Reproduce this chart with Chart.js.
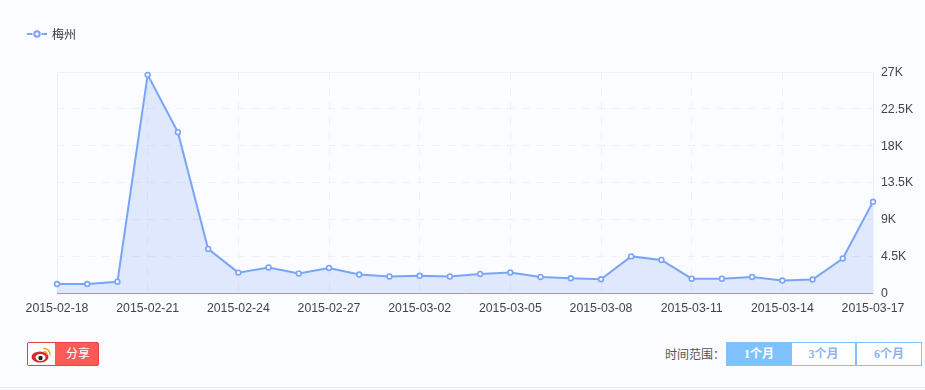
<!DOCTYPE html>
<html>
<head>
<meta charset="utf-8">
<script src="https://cdn.jsdelivr.net/npm/chart.js@4"></script>
<style>
html, body { margin: 0; padding: 0; background: #fbfcff; }
body { width: 925px; height: 390px; position: relative; overflow: hidden; font-family: "Liberation Sans", "Noto Sans CJK SC", sans-serif; }
#wrap { position: absolute; left: 0; top: 0; width: 925px; height: 330px; }
#legend { position: absolute; left: 27px; top: 26px; height: 16px; line-height: 16px; font-size: 12px; color: #333; }
#legend svg { position: absolute; left: 0; top: 0; }
#legend span { position: absolute; left: 25px; top: 1px; white-space: nowrap; }
#share { position: absolute; left: 27px; top: 342px; width: 70px; height: 22px; border: 1px solid #e8403f; border-radius: 2px; background: #fc5a56; color: #fff; font-size: 12px; }
#share .ico { position: absolute; left: 0; top: 0; width: 27px; height: 22px; background: #fff; }
#share span { position: absolute; left: 38px; top: 3px; line-height: 16px; white-space: nowrap; }
#range-label { position: absolute; left: 665px; top: 347px; font-size: 12px; line-height: 16px; color: #555; white-space: nowrap; }
.btn { position: absolute; top: 342px; height: 22px; line-height: 22px; border: 1px solid #83c1fb; text-align: center; font-size: 12px; font-weight: bold; color: #8ab4f4; background: #fff; font-family: "Liberation Serif", "Noto Sans CJK SC", serif; }
.btn.on { background: #7fc1fd; color: #fff; }
#foot { position: absolute; left: 0; right: 0; top: 387px; height: 1px; background: #e9edf2; }
</style>
</head>
<body>
<div id="wrap"><canvas id="trend-chart"></canvas></div>
<div id="legend">
  <svg width="22" height="16"><path d="M0 8H5.5M14.5 8H20" stroke="#7aa5f7" stroke-width="2"/><circle cx="10" cy="8" r="2.7" fill="#fbfcff" stroke="#7aa5f7" stroke-width="2"/></svg>
  <span>梅州</span>
</div>
<div id="share">
  <div class="ico"><svg width="27" height="22">
    <ellipse cx="12" cy="14" rx="8.5" ry="5.5" fill="#d8282f"/>
    <ellipse cx="12.5" cy="14.5" rx="5" ry="3.4" fill="#fff"/>
    <circle cx="12.5" cy="15" r="2.2" fill="#222"/>
    <path d="M15 5.5a6 6 0 0 1 7 7" fill="none" stroke="#f5a623" stroke-width="1.5"/>
    <path d="M15.5 8.5a3 3 0 0 1 3.5 3.5" fill="none" stroke="#f5a623" stroke-width="1.5"/>
  </svg></div>
  <span>分享</span>
</div>
<div id="range-label">时间范围：</div>
<div class="btn on" style="left:726px;width:64px">1个月</div>
<div class="btn" style="left:791px;width:63px">3个月</div>
<div class="btn" style="left:856px;width:64px">6个月</div>
<div id="foot"></div>
<script>
const dates = ['2015-02-18','2015-02-19','2015-02-20','2015-02-21','2015-02-22','2015-02-23','2015-02-24',
    '2015-02-25','2015-02-26','2015-02-27','2015-02-28','2015-03-01','2015-03-02','2015-03-03','2015-03-04',
    '2015-03-05','2015-03-06','2015-03-07','2015-03-08','2015-03-09','2015-03-10','2015-03-11','2015-03-12',
    '2015-03-13','2015-03-14','2015-03-15','2015-03-16','2015-03-17']
const meizhou = [1100,1100,1380,26650,19650,5390,2490,3120,2390,3060,2260,2020,2100,2020,2330,2510,1960,1800,
    1680,4470,4040,1750,1750,1960,1530,1650,4220,11140]
const yLabels = {0:'0',4500:'4.5K',9000:'9K',13500:'13.5K',18000:'18K',22500:'22.5K',27000:'27K'}

const gridColor = '#eef1fa'
const lineColor = '#7aa5f7'

Chart.defaults.font.family = '"Liberation Sans", "Noto Sans CJK SC", sans-serif'
Chart.defaults.font.size = 12.3
Chart.defaults.color = '#444'

new Chart(document.getElementById('trend-chart'), {
    type: 'line',
    data: {
        labels: dates,
        datasets: [{
            label: '梅州',
            data: meizhou,
            borderColor: lineColor,
            borderWidth: 2,
            backgroundColor: 'rgba(122,165,247,0.22)',
            fill: 'origin',
            tension: 0,
            clip: false,
            pointRadius: 2.4,
            pointBorderWidth: 1.6,
            pointBorderColor: lineColor,
            pointBackgroundColor: '#fbfcff'
        }]
    },
    options: {
        responsive: true,
        maintainAspectRatio: false,
        animation: false,
        layout: { padding: { left: 57, top: 72 } },
        plugins: { legend: { display: false }, tooltip: { enabled: false } },
        scales: {
            x: {
                offset: false,
                afterFit: s => { s.height = 37 },
                grid: {
                    drawTicks: false,
                    color: c => (c.index % 3 === 0 || c.index === dates.length - 1) ? gridColor : 'transparent'
                },
                border: {
                    color: lineColor,
                    dash: c => (c.index === 0 || c.index === dates.length - 1) ? [] : [8, 7]
                },
                ticks: {
                    autoSkip: false,
                    maxRotation: 0,
                    padding: 8,
                    callback: (v, i) => i % 3 === 0 ? dates[i] : ''
                }
            },
            y: {
                position: 'right',
                min: 0,
                max: 27000,
                afterFit: s => { s.width = 52 },
                grid: { drawTicks: false, color: gridColor },
                border: {
                    color: gridColor,
                    dash: c => c.index === 6 ? [] : [8, 7]
                },
                ticks: {
                    stepSize: 4500,
                    padding: 8,
                    labelOffset: 0.5,
                    callback: v => yLabels[v]
                }
            }
        }
    }
})
</script>
</body>
</html>
